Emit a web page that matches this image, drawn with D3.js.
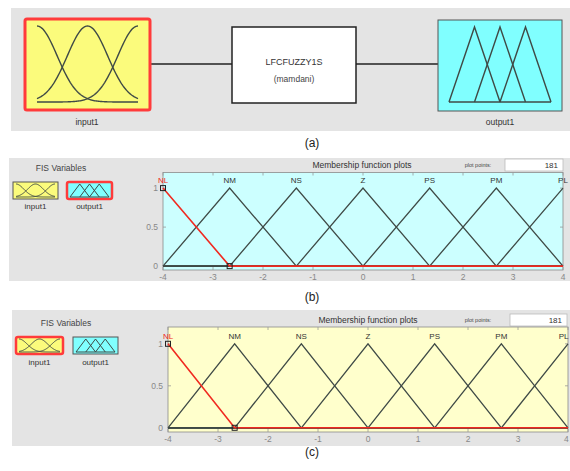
<!DOCTYPE html>
<html>
<head>
<meta charset="utf-8">
<script src="https://cdn.jsdelivr.net/npm/d3@7"></script>
<style>
  body { margin: 0; background: #fff; }
  text { font-family: "Liberation Sans", Arial, sans-serif; }
</style>
</head>
<body>
<div id="chart"></div>
<script>
const svgWidth = 570
const svgHeight = 471

// data
const gaussCenters = [0, 0.5, 1]
const gaussSigma = 0.2
const outTriangles = [[0, 0.25, 0.5], [0.25, 0.5, 0.75], [0.5, 0.75, 1]]
const mfNames = ["NL", "NM", "NS", "Z", "PS", "PM", "PL"]
const mfParams = [
  [-5.333, -4, -2.667],
  [-4, -2.667, -1.333],
  [-2.667, -1.333, 0],
  [-1.333, 0, 1.333],
  [0, 1.333, 2.667],
  [1.333, 2.667, 4],
  [2.667, 4, 5.333]
]
const xTicks = [-4, -3, -2, -1, 0, 1, 2, 3, 4]
const yTicks = [0, 0.5, 1]
const yTickLabels = ["0", "0.5", "1"]
const plotPoints = 181
const fisName = "LFCFUZZY1S"
const fisType = "(mamdani)"

const gray = "#e4e4e4"
const yellow = "#fbfb7c"
const cyan = "#80ffff"
const lineColor = "#3f4a46"
const red = "#f02a20"

const svg = d3.select("#chart").append("svg")
  .attr("width", svgWidth)
  .attr("height", svgHeight)

svg.append("rect").attr("width", svgWidth).attr("height", svgHeight).attr("fill", "#fff")

const trimf = (x, p) => {
  const [a, b, c] = p
  if (x <= a || x >= c) return 0
  return x <= b ? (x - a) / (b - a) : (c - x) / (c - b)
}
const gaussmf = (x, c) => Math.exp(-((x - c) ** 2) / (2 * gaussSigma * gaussSigma))

// keep a text inside the picture: shift it left if it runs past the right edge
function keepInside(sel) {
  sel.each(function () {
    const b = this.getBBox()
    const over = b.x + b.width - (svgWidth - 1)
    if (over > 0) d3.select(this).attr("x", +d3.select(this).attr("x") - over)
  })
}

// little variable box with its mf curves (gaussians for input, triangles for output)
function mfIcon(g, box, fill, kind, selected, padX, padT, padB, sw) {
  g.append("rect")
    .attr("x", box.x).attr("y", box.y).attr("width", box.w).attr("height", box.h)
    .attr("fill", fill)
    .attr("stroke", selected ? "#ff3b3b" : "#555")
    .attr("stroke-width", selected ? box.bw : 1)
    .attr("rx", selected ? 2 : 0)
  const x = d3.scaleLinear().domain([0, 1]).range([box.x + padX, box.x + box.w - padX])
  const y = d3.scaleLinear().domain([0, 1]).range([box.y + box.h - padB, box.y + padT])
  const line = d3.line().x(d => x(d[0])).y(d => y(d[1]))
  const xs = d3.range(0, 1.0001, 0.01)
  if (kind === "gauss") {
    gaussCenters.forEach(c => {
      g.append("path").attr("d", line(xs.map(v => [v, gaussmf(v, c)])))
        .attr("fill", "none").attr("stroke", lineColor).attr("stroke-width", sw)
    })
  } else {
    g.append("path").attr("d", line([[0, 0], [1, 0]]))
      .attr("stroke", lineColor).attr("stroke-width", sw)
    outTriangles.forEach(p => {
      g.append("path").attr("d", line([[p[0], 0], [p[1], 1], [p[2], 0]]))
        .attr("fill", "none").attr("stroke", lineColor).attr("stroke-width", sw)
    })
  }
}

// ---------- panel (a) ----------
const pa = svg.append("g")
pa.append("rect").attr("x", 11).attr("y", 8).attr("width", 559).attr("height", 123).attr("fill", gray)
pa.append("line").attr("x1", 151).attr("x2", 232).attr("y1", 64).attr("y2", 64)
  .attr("stroke", "#222").attr("stroke-width", 1.5)
pa.append("line").attr("x1", 356).attr("x2", 438).attr("y1", 64).attr("y2", 64)
  .attr("stroke", "#222").attr("stroke-width", 1.5)
mfIcon(pa, { x: 25, y: 19, w: 125, h: 91, bw: 3 }, yellow, "gauss", true, 12, 7, 8, 1.4)
mfIcon(pa, { x: 438, y: 20, w: 124, h: 91, bw: 1 }, cyan, "tri", false, 11, 7, 9, 1.4)
pa.append("rect").attr("x", 232).attr("y", 27).attr("width", 124).attr("height", 76)
  .attr("fill", "#fff").attr("stroke", "#222").attr("stroke-width", 1.5)
pa.append("text").attr("x", 294).attr("y", 65).attr("text-anchor", "middle")
  .attr("font-size", 9).attr("fill", "#333").text(fisName)
pa.append("text").attr("x", 294).attr("y", 82).attr("text-anchor", "middle")
  .attr("font-size", 8.5).attr("fill", "#444").text(fisType)
pa.append("text").attr("x", 87).attr("y", 125).attr("text-anchor", "middle")
  .attr("font-size", 8.5).attr("fill", "#333").text("input1")
pa.append("text").attr("x", 500).attr("y", 125).attr("text-anchor", "middle")
  .attr("font-size", 8.5).attr("fill", "#333").text("output1")

// ---------- panels (b) and (c) ----------
function mfPanel(o) {
  const g = svg.append("g")
  g.append("rect").attr("x", o.bg.x).attr("y", o.bg.y).attr("width", o.bg.w).attr("height", o.bg.h)
    .attr("fill", gray)
  g.append("text").attr("x", o.fisX).attr("y", o.fisY).attr("text-anchor", "middle")
    .attr("font-size", 8.5).attr("fill", "#444").text("FIS Variables")
  mfIcon(g, o.inBox, yellow, "gauss", o.sel === "input1", 3, 2, 2, 1)
  mfIcon(g, o.outBox, cyan, "tri", o.sel === "output1", 3, 2, 2, 1)
  g.append("text").attr("x", o.inBox.x + o.inBox.w / 2).attr("y", o.labY).attr("text-anchor", "middle")
    .attr("font-size", 8).attr("fill", "#333").text("input1")
  g.append("text").attr("x", o.outBox.x + o.outBox.w / 2).attr("y", o.labY).attr("text-anchor", "middle")
    .attr("font-size", 8).attr("fill", "#333").text("output1")

  // header row
  g.append("text").attr("x", o.titleX).attr("y", o.titleY).attr("text-anchor", "middle")
    .attr("font-size", 8.5).attr("fill", "#333").text("Membership function plots")
  g.append("text").attr("x", 478).attr("y", o.titleY - 1).attr("text-anchor", "middle")
    .attr("font-size", 5.5).attr("fill", "#444").text("plot points:")
  g.append("rect").attr("x", o.ppBox.x).attr("y", o.ppBox.y).attr("width", o.ppBox.w).attr("height", o.ppBox.h)
    .attr("fill", "#fff").attr("stroke", "#bbb").attr("stroke-width", 0.8)
  g.append("text").attr("x", o.ppBox.x + o.ppBox.w - 5).attr("y", o.ppBox.y + 9).attr("text-anchor", "end")
    .attr("font-size", 8).attr("fill", "#333").text(plotPoints)

  const x = d3.scaleLinear().domain([-4, 4]).range([o.x0, o.x1])
  const y = d3.scaleLinear().domain([-0.05, 1.2]).range([o.yB, o.yT])

  g.append("rect").attr("x", o.x0).attr("y", o.yT).attr("width", o.x1 - o.x0).attr("height", o.yB - o.yT)
    .attr("fill", o.plotBg).attr("stroke", "#8a8a8a").attr("stroke-width", 0.8)

  // inward ticks on all four sides
  const tg = g.append("g").attr("stroke", "#999").attr("stroke-width", 0.8)
  xTicks.forEach(t => {
    tg.append("line").attr("x1", x(t)).attr("x2", x(t)).attr("y1", o.yB).attr("y2", o.yB - 3)
    tg.append("line").attr("x1", x(t)).attr("x2", x(t)).attr("y1", o.yT).attr("y2", o.yT + 3)
  })
  yTicks.forEach(t => {
    tg.append("line").attr("x1", o.x0).attr("x2", o.x0 + 3).attr("y1", y(t)).attr("y2", y(t))
    tg.append("line").attr("x1", o.x1).attr("x2", o.x1 - 3).attr("y1", y(t)).attr("y2", y(t))
  })

  g.selectAll(null).data(xTicks).enter().append("text")
    .attr("x", d => x(d)).attr("y", y(0) + 14).attr("text-anchor", "middle")
    .attr("font-size", 8.5).attr("fill", "#888").text(d => d)
    .call(keepInside)
  g.selectAll(null).data(yTicks).enter().append("text")
    .attr("x", o.x0 - 5).attr("y", d => y(d) + 3).attr("text-anchor", "end")
    .attr("font-size", 8.5).attr("fill", "#888").text((d, i) => yTickLabels[i])

  const line = d3.line().x(d => x(d[0])).y(d => y(d[1]))
  const mfPts = p => {
    const pts = [[-4, trimf(-4, p)]]
    p.forEach(v => { if (v > -4 && v < 4) pts.push([v, trimf(v, p)]) })
    pts.push([4, trimf(4, p)])
    return pts
  }
  mfParams.forEach((p, i) => {
    if (i === 0) return
    g.append("path").attr("d", line(mfPts(p)))
      .attr("fill", "none").attr("stroke", lineColor).attr("stroke-width", 1.3)
  })
  g.append("path").attr("d", line(mfPts(mfParams[0])))
    .attr("fill", "none").attr("stroke", red).attr("stroke-width", 1.6)
  ;[[mfParams[0][1], 1], [mfParams[0][2], 0]].forEach(d => {
    g.append("rect").attr("x", x(d[0]) - 2.5).attr("y", y(d[1]) - 2.5).attr("width", 5).attr("height", 5)
      .attr("fill", "none").attr("stroke", "#222").attr("stroke-width", 1)
  })

  g.selectAll(null).data(mfNames).enter().append("text")
    .attr("x", (d, i) => x(mfParams[i][1])).attr("y", y(1) - 5).attr("text-anchor", "middle")
    .attr("font-size", 8).attr("fill", (d, i) => i === 0 ? red : "#333").text(d => d)
    .call(keepInside)
}

mfPanel({
  bg: { x: 9, y: 158, w: 561, h: 123 }, fisX: 61, fisY: 171,
  inBox: { x: 13, y: 182, w: 45, h: 17, bw: 1 }, outBox: { x: 67, y: 182, w: 45, h: 17, bw: 2.5 },
  sel: "output1", labY: 209,
  titleX: 362, titleY: 168, ppBox: { x: 505, y: 159, w: 58, h: 12 },
  x0: 163, x1: 563, yT: 172.5, yB: 270, plotBg: "#ccffff"
})
mfPanel({
  bg: { x: 12, y: 310, w: 558, h: 136 }, fisX: 66, fisY: 326,
  inBox: { x: 16, y: 337, w: 47, h: 17, bw: 2.5 }, outBox: { x: 73, y: 337, w: 45, h: 17, bw: 1 },
  sel: "input1", labY: 365,
  titleX: 368, titleY: 323, ppBox: { x: 510, y: 314, w: 57, h: 12 },
  x0: 168, x1: 568, yT: 327, yB: 432, plotBg: "#ffffcc"
})

// captions
const caps = [["(a)", 147], ["(b)", 301], ["(c)", 456]]
caps.forEach(c => {
  svg.append("text").attr("x", 312).attr("y", c[1]).attr("text-anchor", "middle")
    .attr("font-family", "Liberation Serif, serif").attr("font-size", 12).attr("fill", "#222").text(c[0])
})
</script>
</body>
</html>
